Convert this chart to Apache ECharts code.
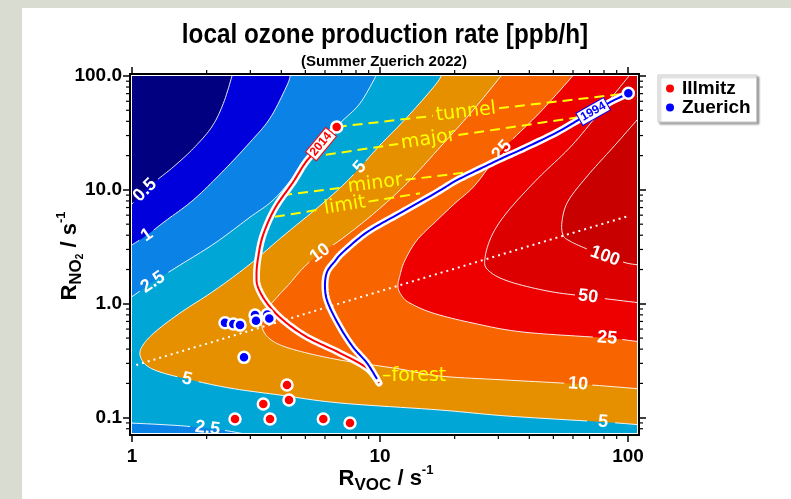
<!DOCTYPE html>
<html>
<head>
<meta charset="utf-8">
<script src="https://cdn.jsdelivr.net/npm/echarts@6.0.0/dist/echarts.min.js"></script>
<style>
html,body{margin:0;padding:0;background:#d9dcd1;}
#c{width:791px;height:499px;}
</style>
</head>
<body>
<div id="c"></div>
<script>
// ---------- axis extents ----------
const X_MIN = 1, X_MAX = 108.7, Y_MIN = 0.0734, Y_MAX = 100;

// ---------- tick values ----------
const xMajor = [1, 10, 100];
const yMajor = [0.1, 1, 10, 100];
const xMinor = [2, 3, 4, 5, 6, 7, 8, 9, 20, 30, 40, 50, 60, 70, 80, 90];
const yMinor = [0.08, 0.09, 0.2, 0.3, 0.4, 0.5, 0.6, 0.7, 0.8, 0.9, 2, 3, 4, 5, 6, 7, 8, 9, 20, 30, 40, 50, 60, 70, 80, 90];

// ---------- contour levels (ppb/h) and band colours ----------
const levels = ['0.5', '1', '2.5', '5', '10', '25', '50', '100'];
const bandColors = ['#000080', '#0000dc', '#0a82e6', '#00a6d6', '#e69000', '#f86400', '#ee0000', '#dc0000', '#c80000'];

// ---------- isolines [R_VOC, R_NO2] ----------
const iso0_5 = [[2.543,103.5],[2.334,57.3],[2.097,35.7],[1.767,23.1],[1.467,15.9],[1.273,12.41],[1.128,9.94],[0.9816,7.19]];
const iso1 = [[4.356,103.5],[4.217,82.8],[3.602,42.6],[2.991,26.2],[2.306,14.3],[1.762,8.12],[1.359,5.31],[1.149,4.01],[0.9816,3.21]];
const iso2_5 = [[9.815,107.8],[8.307,57.6],[6.898,38.5],[5.623,23.2],[4.584,13.7],[3.703,8.12],[2.991,5.76],[2.161,3.41],[1.561,2.186],[1.215,1.55],[0.9816,1.122]];
const iso2_5low = [[0.9816,0.0898],[1.297,0.0872],[1.713,0.0837],[2.371,0.0772],[3.133,0.0691]];
const iso5 = [[17.95,107.8],[16.67,82.9],[12.85,43.4],[10.0,24.7],[8.31,15.8],[7.09,11.0],[5.57,6.91],[4.063,3.93],[2.991,2.23],[2.161,1.319],[1.561,0.829],[1.238,0.565],[1.107,0.434],[1.077,0.355],[1.139,0.290],[1.297,0.252],[1.667,0.2185],[2.484,0.182],[3.953,0.158],[6.898,0.1346],[17.46,0.1168],[32.5,0.1035],[79.3,0.0917],[113.9,0.0863]];
const iso10 = [[31.62,107.8],[23.71,50.0],[17.46,23.7],[12.85,11.45],[9.37,6.12],[6.898,3.62],[5.73,2.785],[4.892,2.057],[4.336,1.519],[3.879,1.168],[3.535,0.917],[3.344,0.72],[3.375,0.588],[3.602,0.490],[4.063,0.4255],[5.077,0.3694],[6.898,0.3207],[8.78,0.296],[12.04,0.2675],[17.46,0.232],[32.5,0.214],[62.85,0.1975],[113.9,0.1785]];
const iso25 = [[61.7,107.8],[44.2,48.0],[31.04,22.3],[24.16,11.0],[20.07,7.64],[16.67,5.21],[14.1,3.62],[12.61,2.417],[12.04,1.786],[11.82,1.401],[12.27,1.168],[13.21,1.014],[16.36,0.829],[23.71,0.677],[37.7,0.565],[82.3,0.50],[113.9,0.461]];
const iso50 = [[103.8,107.8],[80.8,55.3],[59.5,24.7],[43.4,12.66],[32.8,6.505],[28.29,4.006],[26.5,2.517],[27.26,1.975],[32.8,1.582],[47.6,1.292],[68.98,1.157],[113.9,1.014]];
const iso100 = [[113.9,46.1],[88.6,24.7],[68.98,13.46],[57.3,7.96],[54.2,5.31],[54.7,4.006],[58.4,3.548],[67.1,3.08],[80.8,2.62],[99.1,2.275],[113.9,2.186]];

// ridge (dotted) line
const ridge = [[1.04, 0.29], [100, 5.88]];

// emission-site lines
const siteNames = ['tunnel', 'major', 'minor', 'limit'];
const siteFrom = [[6.69, 35.7], [5.22, 19.4], [4.03, 8.98], [3.77, 5.80]];
const siteTo = [[100.3, 70.5], [62.9, 43.4], [24.2, 14.6], [14.5, 9.35]];

// trajectories
const traj2014 = [[6.69,35.7],[6.057,28.4],[5.52,22.3],[4.983,17.15],[4.459,11.68],[3.772,6.91],[3.375,4.006],[3.222,2.517],[3.177,1.786],[3.222,1.401],[3.502,1.014],[4.063,0.72],[5.077,0.5104],[6.898,0.3694],[8.862,0.2729],[9.908,0.2016]];
const traj1994 = [[100.3,70.5],[83.1,57.6],[62.85,40.9],[50.8,31.4],[37.4,22.75],[31.04,18.97],[24.16,14.59],[20.07,11.92],[16.97,9.545],[12.04,6.245],[8.862,4.256],[7.09,2.842],[6.585,2.369],[6.113,1.897],[6.0,1.401],[6.17,1.014],[6.898,0.6247],[7.783,0.417],[8.862,0.302],[9.725,0.2185]];

// measurements
const illmitz = [[6.69,35.7],[4.217,0.1936],[3.384,0.1319],[4.295,0.143],[2.602,0.0974],[3.602,0.0974],[5.907,0.0974],[7.568,0.0898]];
const zuerich = [[100.3,70.5],[2.371,0.681],[2.561,0.6636],[2.726,0.650],[3.133,0.796],[3.162,0.7095],[3.512,0.807],[3.578,0.7445],[2.829,0.3387]];

// ---------- structure (no coordinates) ----------
const isolines = [iso0_5, iso1, iso2_5, iso2_5low, iso5, iso10, iso25, iso50, iso100];
const isoLabels = [
  {line: 0, at: 6, text: levels[0]},
  {line: 1, at: 7, text: levels[1]},
  {line: 2, at: 9, text: levels[2]},
  {line: 3, at: 2.5, text: levels[2]},
  {line: 4, at: 4, text: levels[3]},
  {line: 4, at: 16, text: levels[3]},
  {line: 4, at: 22, text: levels[3]},
  {line: 5, at: 6, text: levels[4]},
  {line: 5, at: 21, text: levels[4]},
  {line: 6, at: 2, text: levels[5]},
  {line: 6, at: 15, text: levels[5]},
  {line: 7, at: 10, text: levels[6]},
  {line: 8, at: 8, text: levels[7]}
];
const EXT = 1.2;
const corners = {
  BL: [X_MIN / EXT, Y_MIN / EXT],
  BR: [X_MAX * EXT, Y_MIN / EXT],
  TR: [X_MAX * EXT, Y_MAX * EXT]
};
const bands = [
  {color: bandColors[1], edges: [iso0_5], close: ['BL', 'BR', 'TR']},
  {color: bandColors[2], edges: [iso1], close: ['BL', 'BR', 'TR']},
  {color: bandColors[3], edges: [iso2_5, iso2_5low], close: ['BR', 'TR']},
  {color: bandColors[4], edges: [iso5], close: ['TR']},
  {color: bandColors[5], edges: [iso10], close: ['TR']},
  {color: bandColors[6], edges: [iso25], close: ['TR']},
  {color: bandColors[7], edges: [iso50], close: ['TR']},
  {color: bandColors[8], edges: [iso100], close: []}
];
const trajList = [traj2014, traj1994];
const trajColors = ['#ff0000', '#0000ff'];
const trajYears = ['2014', '1994'];
const YEAR_AT = 1.5;
const SITE_TEXT_AT = 0.34;
const N = 10;

const FONT = '"Liberation Sans", Arial, Helvetica, sans-serif';
const YFONT = '19px "DejaVu Sans", sans-serif';
const measureCtx = document.createElement('canvas').getContext('2d');
function textWidth(t, font) { measureCtx.font = font; return measureCtx.measureText(t).width; }

function smooth(pts, n) {
  if (pts.length < 3) return pts.map(p => p.slice());
  const out = [];
  for (let i = 0; i < pts.length - 1; i++) {
    const p0 = pts[Math.max(i - 1, 0)], p1 = pts[i], p2 = pts[i + 1], p3 = pts[Math.min(i + 2, pts.length - 1)];
    for (let k = 0; k < n; k++) {
      const t = k / n, t2 = t * t, t3 = t2 * t;
      const f = (a, b, c, d) => 0.5 * (2 * b + (-a + c) * t + (2 * a - 5 * b + 4 * c - d) * t2 + (-a + 3 * b - 3 * c + d) * t3);
      out.push([f(p0[0], p1[0], p2[0], p3[0]), f(p0[1], p1[1], p2[1], p3[1])]);
    }
  }
  out.push(pts[pts.length - 1].slice());
  return out;
}
function upright(dx, dy) {
  let a = -Math.atan2(dy, dx);
  if (a > Math.PI / 2) a -= Math.PI;
  if (a < -Math.PI / 2) a += Math.PI;
  return a;
}

function renderBand(params, api) {
  const b = bands[params.dataIndex];
  let pts = [];
  b.edges.forEach(e => { pts = pts.concat(smooth(e.map(p => api.coord(p)), N)); });
  b.close.forEach(k => pts.push(api.coord(corners[k])));
  return {type: 'polygon', shape: {points: pts}, style: {fill: b.color}};
}

function renderIsolines(params, api) {
  const children = [];
  const font = 'bold 18px ' + FONT;
  isolines.forEach((line, li) => {
    const dense = smooth(line.map(p => api.coord(p)), N);
    const labs = isoLabels.filter(l => l.line === li).map(l => {
      const k = Math.round(l.at * N);
      const p = dense[k], q0 = dense[Math.max(k - 3, 0)], q1 = dense[Math.min(k + 3, dense.length - 1)];
      return {p, r: textWidth(l.text, font) / 2 + 3, rot: upright(q1[0] - q0[0], q1[1] - q0[1]), text: l.text};
    });
    let run = [];
    const flush = () => {
      if (run.length > 1) children.push({type: 'polyline', shape: {points: run}, style: {stroke: 'rgba(255,255,255,0.9)', lineWidth: 1, fill: 'none'}});
      run = [];
    };
    dense.forEach(p => {
      if (labs.some(l => Math.hypot(p[0] - l.p[0], p[1] - l.p[1]) < l.r)) flush(); else run.push(p);
    });
    flush();
    labs.forEach(l => children.push({type: 'text', x: l.p[0], y: l.p[1], rotation: l.rot,
      style: {text: l.text, font, fill: '#ffffff', align: 'center', verticalAlign: 'middle'}}));
  });
  return {type: 'group', children};
}

function renderSite(params, api) {
  const i = params.dataIndex;
  const a = api.coord(siteFrom[i]), b = api.coord(siteTo[i]);
  const dx = b[0] - a[0], dy = b[1] - a[1], L = Math.hypot(dx, dy), ux = dx / L, uy = dy / L;
  const w = textWidth(siteNames[i], YFONT);
  const s0 = SITE_TEXT_AT * L - 3, s1 = SITE_TEXT_AT * L + w + 3, sc = SITE_TEXT_AT * L + w / 2;
  const ls = {stroke: '#ffff00', lineWidth: 2, lineDash: [10, 6], fill: 'none'};
  return {type: 'group', children: [
    {type: 'line', shape: {x1: a[0], y1: a[1], x2: a[0] + ux * s0, y2: a[1] + uy * s0}, style: ls},
    {type: 'line', shape: {x1: a[0] + ux * s1, y1: a[1] + uy * s1, x2: b[0], y2: b[1]}, style: ls},
    {type: 'text', x: a[0] + ux * sc, y: a[1] + uy * sc, rotation: upright(dx, dy),
      style: {text: siteNames[i], font: YFONT, fill: '#ffff00', align: 'center', verticalAlign: 'middle'}}
  ]};
}

function renderTraj(params, api) {
  const i = params.dataIndex;
  const dense = smooth(trajList[i].map(p => api.coord(p)), N);
  const children = [
    {type: 'polyline', shape: {points: dense}, style: {stroke: '#ffffff', lineWidth: 7, fill: 'none', lineJoin: 'round', lineCap: 'round'}},
    {type: 'polyline', shape: {points: dense}, style: {stroke: trajColors[i], lineWidth: 2, fill: 'none', lineJoin: 'round'}}
  ];
  const k = Math.round(YEAR_AT * N);
  const p = dense[k], q0 = dense[Math.max(k - 3, 0)], q1 = dense[Math.min(k + 3, dense.length - 1)];
  children.push({type: 'text', x: p[0], y: p[1], rotation: upright(q1[0] - q0[0], q1[1] - q0[1]),
    style: {text: trajYears[i], font: 'bold 12px ' + FONT, fill: trajColors[i], backgroundColor: '#ffffff',
      borderColor: trajColors[i], borderWidth: 1, padding: [1, 2, 0, 2], align: 'center', verticalAlign: 'middle'}});
  if (i === 0) {
    const e = dense[dense.length - 1];
    children.push({type: 'text', x: e[0] + 3, y: e[1] - 7,
      style: {text: '\u2013forest', font: YFONT, fill: '#ffff00', align: 'left', verticalAlign: 'middle'}});
  }
  return {type: 'group', children};
}

function renderMinorX(params, api) {
  const cs = params.coordSys;
  const x = api.coord([api.value(0), Y_MIN])[0];
  const yb = cs.y + cs.height + 2, yt = cs.y - 2;
  const st = {stroke: '#000', lineWidth: 1.2};
  return {type: 'group', children: [
    {type: 'line', shape: {x1: x, y1: yb, x2: x, y2: yb + 4}, style: st},
    {type: 'line', shape: {x1: x, y1: yt, x2: x, y2: yt - 4}, style: st}
  ]};
}
function renderMinorY(params, api) {
  const cs = params.coordSys;
  const y = api.coord([X_MIN, api.value(1)])[1];
  const xl = cs.x - 2, xr = cs.x + cs.width + 2;
  const st = {stroke: '#000', lineWidth: 1.2};
  return {type: 'group', children: [
    {type: 'line', shape: {x1: xl, y1: y, x2: xl - 4, y2: y}, style: st},
    {type: 'line', shape: {x1: xr, y1: y, x2: xr + 4, y2: y}, style: st}
  ]};
}
function renderFrame(params) {
  const cs = params.coordSys;
  return {type: 'rect', shape: {x: cs.x - 2, y: cs.y - 2, width: cs.width + 4, height: cs.height + 4},
    style: {fill: 'none', stroke: '#000', lineWidth: 2}};
}

const tickLine = {color: '#000', width: 1.5};
const labelFont = {fontFamily: FONT, fontWeight: 'bold', fontSize: 19, color: '#000'};
const baseAxis = {type: 'log', logBase: 10, offset: 2, axisLine: {show: false}, splitLine: {show: false}};

const chart = echarts.init(document.getElementById('c'), null, {renderer: 'canvas'});
chart.setOption({
  animation: false,
  backgroundColor: 'transparent',
  grid: {left: 132, right: 154, top: 76, bottom: 66, show: true, backgroundColor: bandColors[0], borderWidth: 0},
  xAxis: [
    Object.assign({}, baseAxis, {position: 'bottom', min: X_MIN, max: X_MAX,
      axisTick: {show: true, length: 7, lineStyle: tickLine, customValues: xMajor},
      axisLabel: Object.assign({}, labelFont, {margin: 12, customValues: xMajor, formatter: v => String(+(+v).toPrecision(6))})}),
    Object.assign({}, baseAxis, {position: 'top', min: X_MIN, max: X_MAX,
      axisTick: {show: true, length: 7, lineStyle: tickLine, customValues: xMajor}, axisLabel: {show: false}})
  ],
  yAxis: [
    Object.assign({}, baseAxis, {position: 'left', min: Y_MIN, max: Y_MAX,
      axisTick: {show: true, length: 7, lineStyle: tickLine, customValues: yMajor},
      axisLabel: Object.assign({}, labelFont, {margin: 8, customValues: yMajor, formatter: v => (+v).toFixed(1)})}),
    Object.assign({}, baseAxis, {position: 'right', min: Y_MIN, max: Y_MAX,
      axisTick: {show: true, length: 7, lineStyle: tickLine, customValues: yMajor}, axisLabel: {show: false}})
  ],
  legend: {
    orient: 'vertical', left: 658, top: 75,
    data: ['Illmitz', 'Zuerich'],
    icon: 'circle', itemWidth: 8, itemHeight: 8, itemGap: 0,
    padding: [4, 6, 5, 8],
    backgroundColor: '#fff', borderColor: '#c8c8c8', borderWidth: 1,
    shadowColor: 'rgba(0,0,0,0.35)', shadowBlur: 2, shadowOffsetX: 2, shadowOffsetY: 2,
    itemStyle: {borderWidth: 0},
    selectedMode: false,
    textStyle: {fontFamily: FONT, fontWeight: 'bold', fontSize: 19, color: '#000', lineHeight: 16, padding: [0, 0, 0, 3]}
  },
  graphic: [
    {type: 'rect', z: -100, silent: true, shape: {x: 22, y: 8, width: 769, height: 491}, style: {fill: '#ffffff'}},
    {type: 'text', x: 385, y: 36, scaleX: 0.9, style: {text: 'local ozone production rate [ppb/h]', font: 'bold 27px ' + FONT, fill: '#000', align: 'center', verticalAlign: 'middle'}},
    {type: 'text', x: 384, y: 62, style: {text: '(Summer Zuerich 2022)', font: 'bold 15px ' + FONT, fill: '#000', align: 'center', verticalAlign: 'middle'}},
    {type: 'text', x: 386, y: 479, style: {text: '{r|R}{s|VOC}{r| / s}{p|-1}', align: 'center', verticalAlign: 'middle',
      rich: {
        r: {fontSize: 22, fontWeight: 'bold', fontFamily: FONT, fill: '#000', lineHeight: 30, verticalAlign: 'middle'},
        s: {fontSize: 17, fontWeight: 'bold', fontFamily: FONT, fill: '#000', lineHeight: 16, verticalAlign: 'bottom'},
        p: {fontSize: 13, fontWeight: 'bold', fontFamily: FONT, fill: '#000', lineHeight: 14, verticalAlign: 'top'}
      }}},
    {type: 'text', x: 70, y: 256, rotation: Math.PI / 2, style: {text: '{r|R}{s|NO}{ss|2}{r| / s}{p|-1}', align: 'center', verticalAlign: 'middle',
      rich: {
        r: {fontSize: 22, fontWeight: 'bold', fontFamily: FONT, fill: '#000', lineHeight: 30, verticalAlign: 'middle'},
        s: {fontSize: 17, fontWeight: 'bold', fontFamily: FONT, fill: '#000', lineHeight: 16, verticalAlign: 'bottom'},
        ss: {fontSize: 10, fontWeight: 'bold', fontFamily: FONT, fill: '#000', lineHeight: 10, verticalAlign: 'bottom'},
        p: {fontSize: 13, fontWeight: 'bold', fontFamily: FONT, fill: '#000', lineHeight: 14, verticalAlign: 'top'}
      }}}
  ],
  series: [
    {type: 'custom', name: 'bands', coordinateSystem: 'cartesian2d', clip: true, silent: true, z: 1,
      data: bands.map(() => [X_MIN, Y_MIN]), renderItem: renderBand},
    {type: 'custom', name: 'isolines', coordinateSystem: 'cartesian2d', clip: true, silent: true, z: 2,
      data: [[X_MIN, Y_MIN]], renderItem: renderIsolines},
    {type: 'line', name: 'ridge', data: ridge, z: 3, symbol: 'none', silent: true,
      lineStyle: {color: '#ffffff', width: 2, type: [2, 4]}},
    {type: 'custom', name: 'sites', coordinateSystem: 'cartesian2d', clip: true, silent: true, z: 4,
      data: siteNames.map(() => [X_MIN, Y_MIN]), renderItem: renderSite},
    {type: 'custom', name: 'trajectories', coordinateSystem: 'cartesian2d', clip: true, silent: true, z: 5,
      data: trajList.map(() => [X_MIN, Y_MIN]), renderItem: renderTraj},
    {type: 'scatter', name: 'Illmitz', data: illmitz, z: 6, symbolSize: 11,
      itemStyle: {color: '#ff0000', borderColor: '#ffffff', borderWidth: 2.5, opacity: 1}},
    {type: 'scatter', name: 'Zuerich', data: zuerich, z: 6, symbolSize: 11,
      itemStyle: {color: '#0000ff', borderColor: '#ffffff', borderWidth: 2.5, opacity: 1}},
    {type: 'custom', name: 'minorX', coordinateSystem: 'cartesian2d', clip: false, silent: true, z: 7,
      data: xMinor.map(v => [v, Y_MIN]), renderItem: renderMinorX},
    {type: 'custom', name: 'minorY', coordinateSystem: 'cartesian2d', clip: false, silent: true, z: 7,
      data: yMinor.map(v => [X_MIN, v]), renderItem: renderMinorY},
    {type: 'custom', name: 'frame', coordinateSystem: 'cartesian2d', clip: false, silent: true, z: 8,
      data: [[X_MIN, Y_MIN]], renderItem: renderFrame}
  ]
});
</script>
</body>
</html>
